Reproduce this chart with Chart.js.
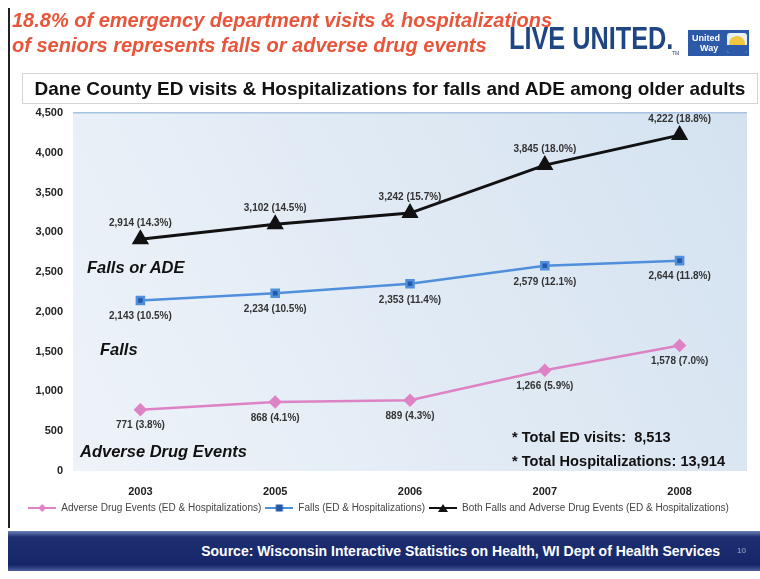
<!DOCTYPE html>
<html>
<head>
<meta charset="utf-8">
<script src="https://cdn.jsdelivr.net/npm/chart.js@4"></script>
<style>
  body { margin: 0; background: #fff; font-family: "Liberation Sans", Arial, sans-serif; }
  #wrap { position: relative; width: 760px; height: 579px; overflow: hidden; }
  #view-chart { position: absolute; left: 0; top: 0; }
  .abs { position: absolute; white-space: nowrap; }
  .red { color: #e9553a; font-style: italic; font-weight: bold; font-size: 20px; left: 12px; }
  .live { left: 509px; top: 22px; font-weight: bold; font-size: 32px; line-height: 32px; color: #1f4583; transform: scaleX(0.79); transform-origin: left top; }
  .tm { left: 672px; top: 50px; font-size: 5px; color: #1f4583; }
  .logo { left: 688px; top: 30px; width: 61px; height: 26px; background: #2c5aa8; }
  .logo span { position: absolute; color: #fff; font-size: 9px; font-weight: bold; line-height: 10px; }
  .sunbox { position: absolute; left: 39px; top: 3px; width: 20px; height: 20px; background: #eaf0f8; border-radius: 3px; overflow: hidden; }
  .sun { position: absolute; left: 2px; top: 3px; width: 16px; height: 16px; border-radius: 50%; background: #f4c63d; }
  .wave { position: absolute; left: 0; top: 12px; width: 20px; height: 8px; background: #2c5aa8; }
  .title { left: 22px; top: 73px; width: 734px; height: 29px; border: 1px solid #d4d4d4; font-weight: bold; font-size: 19px; line-height: 29px; text-align: center; color: #111; }
  .note { font-style: italic; font-weight: bold; font-size: 16.5px; color: #111; }
  .tot { font-weight: bold; font-size: 14.6px; color: #111; }
  .frame { left: 8px; top: 8px; width: 2px; height: 520px; background: #222; }
  .footer { left: 8px; top: 531px; width: 752px; height: 40px; background: linear-gradient(#6f82b8 0px, #1d2f70 6px, #15266a 34px, #4b5d98 40px); }
  .src { right: 40px; top: 12px; color: #fff; font-weight: bold; font-size: 14px; }
  .pg { right: 14px; top: 15px; color: #aab; font-size: 8px; }
</style>
</head>
<body>
<div id="wrap">
  <canvas id="view-chart" width="760" height="579"></canvas>
  <div class="abs frame"></div>
  <div class="abs red" style="top:9px">18.8% of emergency department visits &amp; hospitalizations</div>
  <div class="abs red" style="top:34px">of seniors represents falls or adverse drug events</div>
  <div class="abs live">LIVE UNITED.</div>
  <div class="abs tm">TM</div>
  <div class="abs logo"><span style="left:4px;top:3px">United</span><span style="left:12px;top:13px">Way</span><div class="sunbox"><div class="sun"></div><div class="wave"></div></div></div>
  <div class="abs title">Dane County ED visits &amp; Hospitalizations for falls and ADE among older adults</div>
  <div class="abs note" style="left:87px;top:258px">Falls or ADE</div>
  <div class="abs note" style="left:100px;top:340px">Falls</div>
  <div class="abs note" style="left:80px;top:442px">Adverse Drug Events</div>
  <div class="abs tot" style="left:512px;top:429px">* Total ED visits:&nbsp; 8,513</div>
  <div class="abs tot" style="left:512px;top:453px">* Total Hospitalizations: 13,914</div>
  <div class="abs footer">
    <div class="abs src">Source: Wisconsin Interactive Statistics on Health, WI Dept of Health Services</div>
    <div class="abs pg">10</div>
  </div>
</div>
<script>
const years = ["2003", "2005", "2006", "2007", "2008"];
const adeValues = [771, 868, 889, 1266, 1578];
const adePct = ["3.8%", "4.1%", "4.3%", "5.9%", "7.0%"];
const fallsValues = [2143, 2234, 2353, 2579, 2644];
const fallsPct = ["10.5%", "10.5%", "11.4%", "12.1%", "11.8%"];
const bothValues = [2914, 3102, 3242, 3845, 4222];
const bothPct = ["14.3%", "14.5%", "15.7%", "18.0%", "18.8%"];
const yTicks = [0, 500, 1000, 1500, 2000, 2500, 3000, 3500, 4000, 4500];

// small legend markers: line with the point on it
function legendMark(color, markColor, shape) {
    const c = document.createElement("canvas");
    c.width = 28; c.height = 10;
    const g = c.getContext("2d");
    g.strokeStyle = color; g.lineWidth = 2;
    g.beginPath(); g.moveTo(0, 5); g.lineTo(28, 5); g.stroke();
    g.fillStyle = markColor;
    g.beginPath();
    if (shape == "tri") { g.moveTo(14, 1); g.lineTo(19, 9); g.lineTo(9, 9); }
    else if (shape == "sq") { g.rect(10.5, 1.5, 7, 7); }
    else { g.moveTo(14, 1); g.lineTo(18, 5); g.lineTo(14, 9); g.lineTo(10, 5); }
    g.closePath(); g.fill();
    return c;
}

const bgPlugin = {
    id: "plotBg",
    beforeDraw(chart) {
        const a = chart.chartArea, c = chart.ctx;
        const grd = c.createLinearGradient(a.left, a.bottom, a.right, a.top);
        grd.addColorStop(0, "#eef3f9");
        grd.addColorStop(1, "#d4e2f0");
        c.save();
        c.fillStyle = grd;
        c.fillRect(a.left, a.top, a.right - a.left, a.bottom - a.top);
        c.restore();
    }
};

const labelPlugin = {
    id: "pointLabels",
    afterDatasetsDraw(chart) {
        const c = chart.ctx;
        c.save();
        c.font = "bold 10px 'Liberation Sans', Arial";
        c.fillStyle = "#333";
        c.textAlign = "center";
        c.textBaseline = "middle";
        chart.data.datasets.forEach((ds, i) => {
            chart.getDatasetMeta(i).data.forEach((p, j) => {
                const txt = ds.data[j].toLocaleString("en-US") + " (" + ds.pct[j] + ")";
                c.fillText(txt, p.x, p.y + ds.labelOffset);
            });
        });
        c.restore();
    }
};

const cnv = document.getElementById("view-chart");
const ctx = cnv.getContext("2d");

const viewChart = new Chart(ctx, {
    type: "line",
    data: {
        labels: years,
        datasets: [{
            label: "Adverse Drug Events (ED & Hospitalizations)",
            data: adeValues,
            pct: adePct,
            labelOffset: 16,
            borderColor: "#de82c6",
            backgroundColor: "#de82c6",
            borderWidth: 2.5,
            pointStyle: "rectRot",
            pointRadius: 5,
            mark: legendMark("#de82c6", "#de82c6", "dia")
        },
        {
            label: "Falls (ED & Hospitalizations)",
            data: fallsValues,
            pct: fallsPct,
            labelOffset: 16,
            borderColor: "#4f8fdc",
            backgroundColor: "#2458a8",
            borderWidth: 2.5,
            pointStyle: "rect",
            pointRadius: 5,
            mark: legendMark("#4f8fdc", "#2458a8", "sq")
        },
        {
            label: "Both Falls and Adverse Drug Events (ED & Hospitalizations)",
            data: bothValues,
            pct: bothPct,
            labelOffset: -16,
            borderColor: "#111",
            backgroundColor: "#111",
            borderWidth: 3,
            pointStyle: "triangle",
            pointRadius: 7,
            mark: legendMark("#111", "#111", "tri")
        }]
    },
    options: {
        responsive: false,
        animation: false,
        layout: { padding: { left: 10, top: 113, right: 13, bottom: 56 } },
        plugins: {
            tooltip: { enabled: false },
            legend: {
                position: "bottom",
                labels: {
                    usePointStyle: true,
                    pointStyleWidth: 28,
                    padding: 4,
                    color: "#444",
                    font: { size: 10, family: "'Liberation Sans', Arial" },
                    generateLabels(chart) {
                        return chart.data.datasets.map((ds, i) => ({
                            text: ds.label,
                            pointStyle: ds.mark,
                            fillStyle: ds.borderColor,
                            strokeStyle: ds.borderColor,
                            lineWidth: 0,
                            datasetIndex: i,
                            fontColor: "#444"
                        }));
                    }
                }
            }
        },
        scales: {
            x: {
                offset: true,
                grid: { display: false, drawTicks: false },
                border: { display: false },
                afterFit(scale) { scale.height = 28; },
                ticks: { color: "#222", padding: 14, font: { size: 11, weight: "bold", family: "'Liberation Sans', Arial" } }
            },
            y: {
                min: 0,
                max: 4500,
                afterFit(scale) { scale.width = 63; },
                afterBuildTicks(scale) { scale.ticks = yTicks.map(v => ({ value: v })); },
                border: { display: false },
                grid: {
                    drawTicks: false,
                    color: c => c.tick && c.tick.value == 4500 ? "#a8c2e2" : "rgba(0,0,0,0)",
                    lineWidth: 1.5
                },
                ticks: {
                    color: "#222",
                    padding: 10,
                    font: { size: 11, weight: "bold", family: "'Liberation Sans', Arial" },
                    callback: v => v.toLocaleString("en-US")
                }
            }
        }
    },
    plugins: [bgPlugin, labelPlugin]
});
</script>
</body>
</html>
